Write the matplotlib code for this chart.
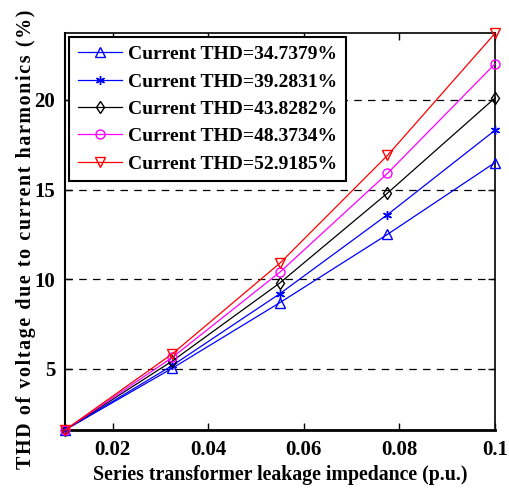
import numpy as np
import matplotlib
matplotlib.use("Agg")
import matplotlib.pyplot as plt

plt.rcParams['font.family'] = ['Liberation Serif', 'DejaVu Serif']
plt.rcParams['font.weight'] = 'bold'

# datos
impedance = [0.01, 0.0325, 0.055, 0.0775, 0.1]
labels = ['Current THD=34.7379%', 'Current THD=39.2831%', 'Current THD=43.8282%',
          'Current THD=48.3734%', 'Current THD=52.9185%']
thd_1 = [1.6, 5.05, 8.7, 12.5, 16.5]
thd_2 = [1.6, 5.2, 9.2, 13.6, 18.3]
thd_3 = [1.6, 5.45, 9.8, 14.8, 20.1]
thd_4 = [1.6, 5.65, 10.4, 15.9, 22.0]
thd_5 = [1.6, 5.85, 10.9, 16.9, 23.7]

series = [thd_1, thd_2, thd_3, thd_4, thd_5]
colores = ['blue', 'blue', 'black', 'magenta', 'red']
marcadores = ['^', (6, 2, 0), 'd', 'o', 'v']

fig = plt.figure(figsize=(5.10, 4.88), dpi=100)
ax = fig.add_axes([65/510, 1 - 430/488, 430/510, 397/488])

for y, c, m, lab in zip(series, colores, marcadores, labels):
    ax.plot(impedance, y, color=c, marker=m, markersize=6.5, markerfacecolor='none',
            markeredgecolor=c, linewidth=0.9, label=lab, clip_on=False, zorder=3)

ax.set_xlim(0.01, 0.1)
ax.set_ylim(1.6, 23.72)
ax.set_xticks([0.02, 0.04, 0.06, 0.08, 0.1])
ax.set_xticklabels(['0.02', '0.04', '0.06', '0.08', '0.1'])
ax.set_yticks([5, 10, 15, 20])
ax.yaxis.grid(True, linestyle=(0, (6, 5)), color='black', linewidth=0.9)
ax.tick_params(direction='in', top=True, right=True, labelsize=15, length=5, width=1, pad=7)
for s in ax.spines.values():
    s.set_linewidth(1.2)
ax.spines['bottom'].set_linewidth(2)
ax.spines['left'].set_linewidth(1.5)

ax.set_xlabel('Series transformer leakage impedance (p.u.)', fontsize=14.3,
              fontweight='bold', labelpad=4)
ylab = 'THD of voltage due to current harmonics (%)'
ylab = '\u200a'.join(ylab)
ax.set_ylabel(ylab, fontsize=14.4, fontweight='bold',
              family=['Liberation Serif', 'DejaVu Sans'])
ax.yaxis.set_label_coords(-0.068, 0.481)

leg = ax.legend(loc='upper left', fontsize=14, frameon=True, fancybox=False,
                handlelength=2.3, borderaxespad=0.2, labelspacing=0.5,
                borderpad=0.45, handletextpad=0.3)
leg.get_frame().set_edgecolor('black')
leg.get_frame().set_linewidth(1.5)
leg.get_frame().set_alpha(1)
leg.set_zorder(5)

fig.savefig('out.png', dpi=100)
